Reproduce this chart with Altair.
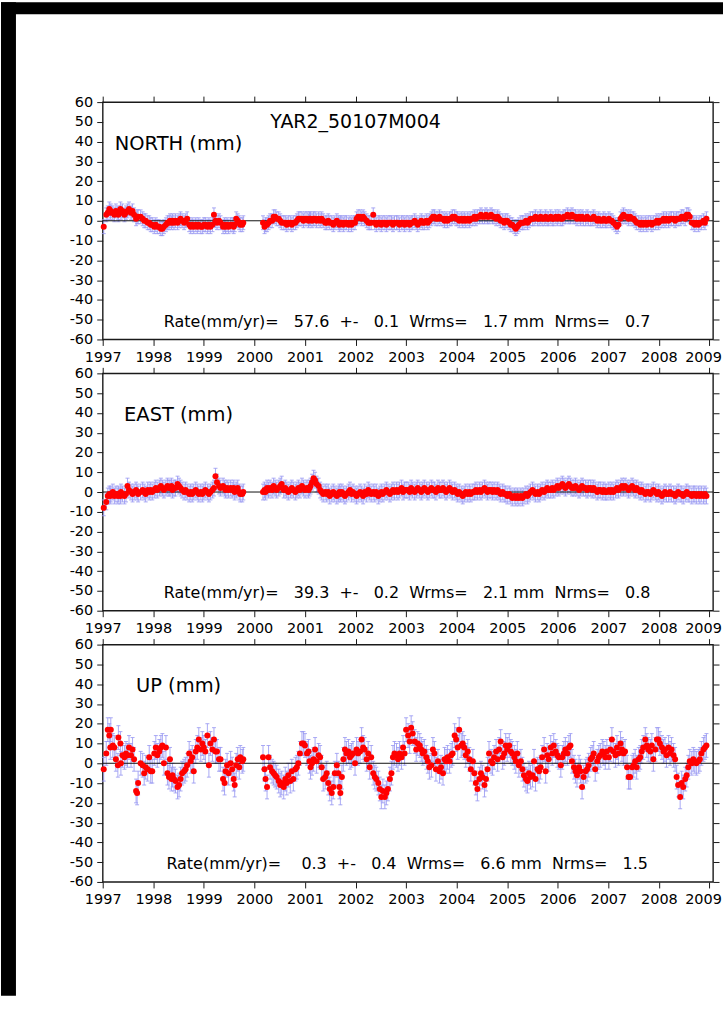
import altair as alt
import pandas as pd

# ---------------- data ----------------
EPOCHS = [
    1997.02, 1997.07, 1997.10, 1997.13, 1997.15, 1997.16, 1997.20, 1997.23, 1997.26, 1997.30,
    1997.31, 1997.35, 1997.36, 1997.39, 1997.43, 1997.46, 1997.49, 1997.52, 1997.56, 1997.59,
    1997.62, 1997.66, 1997.68, 1997.70, 1997.75, 1997.79, 1997.82, 1997.85, 1997.89, 1997.92,
    1997.95, 1997.98, 1998.02, 1998.05, 1998.08, 1998.12, 1998.15, 1998.18, 1998.21, 1998.25,
    1998.28, 1998.31, 1998.33, 1998.36, 1998.38, 1998.41, 1998.44, 1998.48, 1998.51, 1998.54,
    1998.57, 1998.61, 1998.64, 1998.67, 1998.71, 1998.74, 1998.77, 1998.80, 1998.84, 1998.87,
    1998.90, 1998.94, 1998.97, 1999.00, 1999.03, 1999.07, 1999.10, 1999.13, 1999.17, 1999.20,
    1999.23, 1999.26, 1999.30, 1999.33, 1999.38, 1999.41, 1999.43, 1999.46, 1999.49, 1999.53,
    1999.56, 1999.59, 1999.61, 1999.64, 1999.67, 1999.70, 1999.72, 1999.76, 1999.78,
    2000.17, 2000.20, 2000.22, 2000.25, 2000.28, 2000.31, 2000.35, 2000.38, 2000.41, 2000.44,
    2000.48, 2000.51, 2000.54, 2000.58, 2000.61, 2000.64, 2000.67, 2000.71, 2000.74, 2000.77,
    2000.81, 2000.84, 2000.87, 2000.90, 2000.94, 2000.97, 2001.00, 2001.04, 2001.07, 2001.09,
    2001.11, 2001.14, 2001.17, 2001.20, 2001.23, 2001.27, 2001.30, 2001.33, 2001.36, 2001.40,
    2001.43, 2001.46, 2001.49, 2001.53, 2001.56, 2001.59, 2001.63, 2001.66, 2001.68, 2001.70,
    2001.73, 2001.76, 2001.79, 2001.82, 2001.86, 2001.89, 2001.92, 2001.95, 2001.99, 2002.02,
    2002.05, 2002.09, 2002.12, 2002.15, 2002.18, 2002.22, 2002.25, 2002.28, 2002.31, 2002.35,
    2002.38, 2002.41, 2002.45, 2002.48, 2002.51, 2002.54, 2002.58, 2002.61, 2002.64, 2002.68,
    2002.71, 2002.74, 2002.77, 2002.81, 2002.84, 2002.87, 2002.91, 2002.94, 2002.97, 2003.00,
    2003.04, 2003.07, 2003.10, 2003.13, 2003.17, 2003.20, 2003.23, 2003.27, 2003.30, 2003.33,
    2003.36, 2003.40, 2003.43, 2003.46, 2003.50, 2003.53, 2003.56, 2003.59, 2003.63, 2003.66,
    2003.69, 2003.73, 2003.76, 2003.79, 2003.82, 2003.86, 2003.89, 2003.92, 2003.96, 2003.99,
    2004.02, 2004.05, 2004.09, 2004.12, 2004.15, 2004.18, 2004.22, 2004.25, 2004.28, 2004.32,
    2004.35, 2004.38, 2004.41, 2004.45, 2004.48, 2004.51, 2004.55, 2004.58, 2004.61, 2004.64,
    2004.68, 2004.71, 2004.74, 2004.78, 2004.81, 2004.84, 2004.87, 2004.91, 2004.94, 2004.97,
    2005.00, 2005.04, 2005.07, 2005.10, 2005.14, 2005.17, 2005.20, 2005.23, 2005.27, 2005.30,
    2005.33, 2005.37, 2005.40, 2005.43, 2005.46, 2005.50, 2005.53, 2005.56, 2005.60, 2005.63,
    2005.66, 2005.69, 2005.73, 2005.76, 2005.79, 2005.82, 2005.86, 2005.89, 2005.92, 2005.96,
    2005.99, 2006.02, 2006.06, 2006.09, 2006.12, 2006.15, 2006.19, 2006.22, 2006.25, 2006.28,
    2006.32, 2006.35, 2006.38, 2006.42, 2006.45, 2006.48, 2006.51, 2006.55, 2006.58, 2006.61,
    2006.65, 2006.68, 2006.71, 2006.74, 2006.78, 2006.81, 2006.84, 2006.88, 2006.91, 2006.94,
    2006.97, 2007.01, 2007.04, 2007.07, 2007.10, 2007.14, 2007.17, 2007.20, 2007.24, 2007.27,
    2007.30, 2007.33, 2007.37, 2007.40, 2007.43, 2007.47, 2007.50, 2007.53, 2007.56, 2007.60,
    2007.63, 2007.66, 2007.69, 2007.73, 2007.76, 2007.79, 2007.83, 2007.86, 2007.89, 2007.93,
    2007.96, 2007.99, 2008.02, 2008.06, 2008.09, 2008.12, 2008.15, 2008.19, 2008.22, 2008.25,
    2008.29, 2008.32, 2008.35, 2008.38, 2008.42, 2008.45, 2008.48, 2008.52, 2008.55, 2008.58,
    2008.61, 2008.65, 2008.68, 2008.71, 2008.74, 2008.78, 2008.81, 2008.84, 2008.88, 2008.91,
    2008.94,
]

NORTH = [
    -3, 3, 4, 6, 4, 5, 4, 3, 5, 4,
    3, 6, 4, 5, 3, 4, 5, 6, 4, 5,
    3, 1, 2, 2, 2, 1, 0, 0, -1, -1,
    -2, -2, -3, -2, -3, -3, -4, -4, -3, -2,
    -1, -1, 0, -1, 0, -1, 0, -1, 0, 1,
    0, -1, 0, 1, -2, -3, -2, -3, -2, -3,
    -2, -3, -3, -2, -2, -3, -2, -3, -2, 3,
    0, -1, 0, -1, -3, -2, -3, -2, -3, -2,
    -2, -3, -2, 1, 0, -1, -2, -2, -1,
    -1, -3, -2, -2, -1, 0, 0, 2, 2, 1,
    1, 0, -1, -1, -1, -2, -1, -1, -2, -1,
    -1, 0, 1, 1, 1, 0, 1, 1, 0, 1,
    1, 0, 1, 1, 0, 1, 0, 1, 0, -1,
    -1, 0, -1, -1, -2, -1, 0, -1, -2, -1,
    -1, -2, -1, -1, -2, -1, -2, -1, -1, 1,
    2, 2, 1, 2, 1, 0, -1, -1, -1, 3,
    -1, -2, -1, -1, -2, -1, -1, -2, -1, -1,
    -1, -2, -1, -1, -1, -2, -1, -1, -2, -1,
    -1, -2, -1, -1, 0, -1, -2, -1, 0, -1,
    -1, 0, -1, 0, 1, 2, 2, 1, 1, 2,
    1, 1, 0, 1, 0, 1, 1, 2, 2, 1,
    1, 0, 1, 0, 1, 0, 1, 0, 1, 1,
    2, 1, 2, 2, 3, 2, 2, 3, 2, 2,
    3, 2, 2, 1, 2, 1, 0, 0, -1, 0,
    0, -1, -2, -2, -3, -4, -3, -2, -1, -1,
    -1, 0, -1, 0, 1, 1, 1, 2, 1, 1,
    2, 1, 1, 2, 1, 1, 2, 1, 1, 2,
    1, 2, 1, 1, 2, 2, 3, 2, 2, 3,
    2, 2, 1, 2, 1, 2, 1, 1, 2, 1,
    1, 1, 2, 1, 0, 1, 0, 0, 1, 0,
    0, 1, 0, 0, -1, -2, -3, -2, 1, 2,
    3, 2, 2, 1, 2, 1, 1, 0, -1, -1,
    -2, -1, -2, -1, -2, -1, -1, -2, -1, -1,
    0, -1, 0, 0, 1, 0, 1, 0, 1, 1,
    1, 0, 1, 1, 1, 2, 2, 1, 3, 3,
    2, -1, -1, -2, -1, -2, -1, -1, 0, -1,
    1,
]

EAST = [
    -8, -5, -2, -1, -2, -1, 0, -2, -1, -2,
    -1, -2, 0, -1, -2, -1, 3, 1, 0, -1,
    0, 1, 0, -1, 0, 1, 0, -1, 1, 0,
    1, 0, 1, 2, 1, 2, 3, 2, 1, 2,
    3, 2, 2, 3, 1, 2, 2, 4, 3, 2,
    1, 0, 1, 0, -1, 0, -1, 0, 1, 0,
    -1, 0, -1, 0, 1, 0, -1, 0, 1, 2,
    8, 5, 3, 2, 3, 2, 1, 2, 1, 2,
    1, 2, 0, 1, 2, 0, -1, -1, 0,
    0, 1, 0, 2, 1, 2, 1, 3, 2, 1,
    2, 3, 4, 1, 2, 1, 0, 1, 2, 1,
    0, 1, 2, 1, 3, 2, 1, 2, 1, 2,
    3, 5, 7, 6, 4, 3, 1, 0, -1, 0,
    -1, 0, -2, -1, 0, -1, -2, -1, 0, -1,
    0, -1, -2, -1, 0, 1, -1, 0, -1, -2,
    -1, 0, -1, -2, 0, -1, 1, 0, -1, 0,
    -1, 0, -2, -1, 0, -1, 0, 1, 0, -1,
    0, 1, 0, 1, 0, 1, 2, 0, 1, 1,
    1, 0, 2, 1, 0, 1, 2, 1, 0, 1,
    2, 1, 0, 1, 2, 1, 1, 0, 2, 1,
    1, 2, 1, 0, 1, 2, 1, 0, 1, 0,
    -1, 0, -1, -2, -1, 0, -1, 0, -1, 0,
    0, 1, 0, 1, 0, 1, 2, 1, 0, 1,
    1, 0, 1, 0, 1, 0, -1, 0, -1, -1,
    -2, -1, -2, -3, -2, -3, -2, -3, -2, -3,
    -2, -1, -2, -1, 0, 1, 0, -1, 0, -1,
    0, 1, 0, 1, 2, 1, 1, 2, 1, 2,
    3, 2, 3, 4, 3, 2, 3, 4, 3, 2,
    2, 3, 2, 1, 2, 3, 2, 2, 1, 2,
    2, 1, 2, 1, 0, 1, 1, 0, 1, 0,
    0, 1, 0, 1, 0, 1, 2, 1, 2, 3,
    2, 3, 2, 1, 2, 3, 2, 1, 2, 1,
    0, 1, 0, -1, 0, 0, -1, 0, 1, 0,
    -1, 0, -1, -2, -1, 0, -1, -1, 0, -1,
    -1, -2, -1, 0, -1, -1, -2, -1, 0, -1,
    -1, -2, -1, -1, -2, -1, -2, -1, -2, -1,
    -2,
]

UP = [
    -3, 5, 17, 14, 8, 17, 9, 8, 2, -1,
    13, 10, 0, 4, 3, 5, 4, 8, 4, 7,
    2, -14, -15, -10, 0, -1, -5, -2, -3, 3,
    -4, -4, 5, 8, 4, 6, 8, 9, 0, 8,
    -5, -7, 2, -8, -6, -8, -9, -12, -11, -8,
    -5, -4, -3, -1, 5, 1, 3, -4, 6, 8,
    12, 7, 10, 8, 6, 14, -1, 10, 7, 12,
    6, 6, 2, 2, -8, -10, -4, -1, -5, 0,
    -3, -8, -11, -1, 2, -2, 3, 1, 2,
    3, -3, -8, -12, 3, -2, -4, -5, -6, -7,
    -9, -11, -10, -12, -8, -10, -6, -9, -4, -8,
    -3, -2, 0, 5, 10, 10, 9, 5, 6, 1,
    -2, 0, 2, 7, 1, 4, 3, -2, -8, -7,
    -5, -10, -13, -15, -12, -5, -1, -5, -12, -15,
    -7, 2, 7, 5, 6, 3, 4, 5, 0, 7,
    5, 6, 12, 8, 7, 2, 5, -2, 3, -5,
    -7, -8, -10, -13, -17, -14, -17, -15, -13, -8,
    -5, 3, 5, 4, 2, 5, 3, 8, 5, 17,
    14, 11, 18, 15, 11, 7, 10, 9, 7, 5,
    6, 3, 1, -2, -1, 7, 5, -3, 1, -4,
    -2, -5, 2, 1, 3, 1, 4, 5, 14, 12,
    8, 17, 9, 10, 8, 4, 6, 2, -3, 1,
    -5, -10, -13, -8, -5, -7, -11, -8, -3, 5,
    1, 0, 3, 6, 2, 7, 11, 3, 5, 9,
    7, 9, 6, 5, 3, 1, 5, -1, 1, -3,
    -6, -8, -9, -5, -7, -6, 1, -8, -3, -4,
    -2, 3, 7, -4, 4, 2, 8, 5, 9, 6,
    4, 3, -1, 3, 5, 7, 5, 8, 9, 1,
    -2, -4, -6, -2, -4, -12, -7, -4, -3, -1,
    2, 3, 5, -3, 1, 3, 4, 6, 5, 3,
    6, 3, 7, 12, 6, 4, 8, 5, 10, 7,
    5, 6, -2, -7, -7, -2, -1, 1, -2, 2,
    3, 6, 8, 12, 9, 7, 6, 9, 2, 7,
    12, 12, 10, 8, 6, 7, 4, 8, 5, 7,
    4, 2, -7, -11, -17, -10, -12, -8, -6, -2,
    1, 0, 2, 1, 0, 1, 2, 5, 7, 8,
    9,
]

SIGMAS = [3.5, 4.0, 6.0]          # typical one-sigma error bar (mm) for N, E, U
LABELS = ["NORTH (mm)", "EAST (mm)", "UP (mm)"]
NB = "\u00a0"
STATS = [
    "Rate(mm/yr)=" + NB * 3 + "57.6" + NB * 2 + "+-" + NB * 3 + "0.1" + NB * 2 + "Wrms=" + NB * 3 + "1.7 mm" + NB * 2 + "Nrms=" + NB * 3 + "0.7",
    "Rate(mm/yr)=" + NB * 3 + "39.3" + NB * 2 + "+-" + NB * 3 + "0.2" + NB * 2 + "Wrms=" + NB * 3 + "2.1 mm" + NB * 2 + "Nrms=" + NB * 3 + "0.8",
    "Rate(mm/yr)=" + NB * 4 + "0.3" + NB * 2 + "+-" + NB * 3 + "0.4" + NB * 2 + "Wrms=" + NB * 3 + "6.6 mm" + NB * 2 + "Nrms=" + NB * 3 + "1.5",
]
STATION = "YAR2_50107M004"
YEAR_TICKS = list(range(1997, 2010))
MM_TICKS = list(range(-60, 61, 10))

assert len(EPOCHS) == len(NORTH) == len(EAST) == len(UP)

# ---------------- styling ----------------
FONT = "DejaVu Sans"
W, H = 612, 238
XS = alt.Scale(domain=[1997, 2009.07], nice=False, zero=False)
YS = alt.Scale(domain=[-60, 60], nice=False, zero=False)
ERR = "#9a9af2"
RED = "#ff0000"


def panel(values, sigma, label, stats, first):
    df = pd.DataFrame({"t": EPOCHS, "v": values})
    df["lo"] = df["v"] - sigma
    df["hi"] = df["v"] + sigma
    base = alt.Chart(df)

    bars = base.mark_rule(color=ERR, strokeWidth=1, opacity=0.85).encode(
        x=alt.X("t:Q", scale=XS, title=None,
                axis=alt.Axis(orient="bottom", values=YEAR_TICKS, format="d",
                              labelPadding=5, labelBaseline="top",
                              labelOverlap=False, labelFlush=False,
                              # keep the last year label inside the page
                              labelAlign={"condition": {"test": "datum.value >= 2009", "value": "right"},
                                          "value": "center"},
                              labelOffset={"condition": {"test": "datum.value >= 2009", "value": 12},
                                           "value": 0})),
        y=alt.Y("lo:Q", scale=YS, title=None,
                axis=alt.Axis(orient="left", values=MM_TICKS,
                              labelExpr="'' + datum.value", labelPadding=4,
                              labelOverlap=False, labelFlush=False)),
        y2="hi:Q",
    )
    cap_hi = base.mark_tick(orient="horizontal", size=4, thickness=1, color=ERR, opacity=0.85).encode(
        x=alt.X("t:Q", scale=XS, axis=None), y=alt.Y("hi:Q", scale=YS, axis=None))
    cap_lo = base.mark_tick(orient="horizontal", size=4, thickness=1, color=ERR, opacity=0.85).encode(
        x=alt.X("t:Q", scale=XS, axis=None), y=alt.Y("lo:Q", scale=YS, axis=None))

    zero = alt.Chart(pd.DataFrame({"z": [0]})).mark_rule(color="#111111", strokeWidth=1).encode(
        y=alt.Y("z:Q", scale=YS, axis=None))

    pts = base.mark_circle(size=36, color=RED, opacity=1).encode(
        x=alt.X("t:Q", scale=XS, axis=None), y=alt.Y("v:Q", scale=YS, axis=None))

    # top / right ticks without labels
    frame = alt.Chart(pd.DataFrame({"t": [2003.0], "v": [0.0]})).mark_point(opacity=0).encode(
        x=alt.X("t:Q", scale=XS, title=None,
                axis=alt.Axis(orient="top", values=YEAR_TICKS, labels=False)),
        y=alt.Y("v:Q", scale=YS, title=None,
                axis=alt.Axis(orient="right", values=MM_TICKS, labels=False)),
    )

    lab = alt.Chart(pd.DataFrame({"t": [1998.5], "v": [39], "s": [label]})).mark_text(
        font=FONT, fontSize=19.5, color="black", align="center", baseline="middle").encode(
        x=alt.X("t:Q", scale=XS, axis=None), y=alt.Y("v:Q", scale=YS, axis=None), text="s:N")

    st = alt.Chart(pd.DataFrame({"t": [2003.02], "v": [-51], "s": [stats]})).mark_text(
        font=FONT, fontSize=16, color="black", align="center", baseline="middle").encode(
        x=alt.X("t:Q", scale=XS, axis=None), y=alt.Y("v:Q", scale=YS, axis=None), text="s:N")

    layers = [bars, cap_hi, cap_lo, zero, pts, frame, lab, st]

    if first:
        ttl = alt.Chart(pd.DataFrame({"t": [2002.0], "v": [50], "s": [STATION]})).mark_text(
            font=FONT, fontSize=19, color="black", align="center", baseline="middle").encode(
            x=alt.X("t:Q", scale=XS, axis=None), y=alt.Y("v:Q", scale=YS, axis=None), text="s:N")
        one = pd.DataFrame({"a": [0]})
        left_strip = alt.Chart(one).mark_rect(color="black").encode(
            x=alt.value(-102), x2=alt.value(-87), y=alt.value(-100), y2=alt.value(896))
        top_strip = alt.Chart(one).mark_rect(color="black").encode(
            x=alt.value(-102), x2=alt.value(622), y=alt.value(-100), y2=alt.value(-88))
        layers = [left_strip, top_strip] + layers + [ttl]

    return alt.layer(*layers).resolve_axis(x="independent", y="independent").properties(
        width=W, height=H)


chart = alt.vconcat(
    panel(NORTH, SIGMAS[0], LABELS[0], STATS[0], True),
    panel(EAST, SIGMAS[1], LABELS[1], STATS[1], False),
    panel(UP, SIGMAS[2], LABELS[2], STATS[2], False),
    spacing=34,
    bounds="flush",
).properties(
    padding=0,
    background="white",
).configure_view(
    stroke="#1a1a1a", strokeWidth=1.4,
).configure_axis(
    domain=False, grid=False,
    ticks=True, tickSize=6, tickWidth=1, tickColor="#1a1a1a",
    labelFont=FONT, labelFontSize=14.5, labelColor="black",
)

chart.save("out.html", embed_options={"renderer": "svg", "actions": False})
